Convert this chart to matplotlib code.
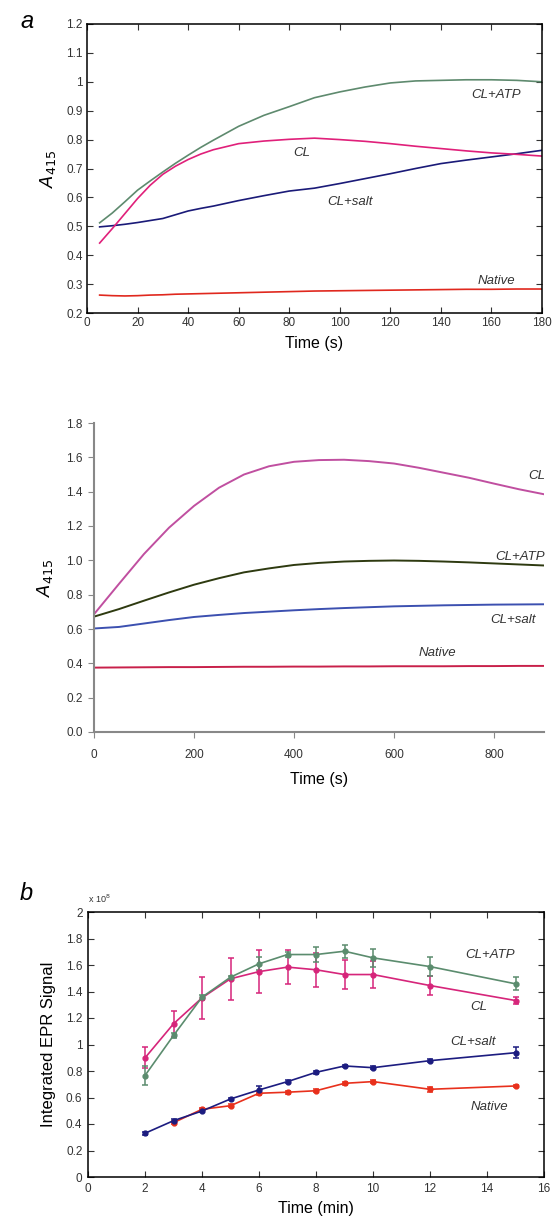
import numpy as np
import matplotlib
matplotlib.use('Agg')
import matplotlib.pyplot as plt
from matplotlib.ticker import FormatStrFormatter, FuncFormatter

plt.rcParams['font.family'] = ['Liberation Sans', 'DejaVu Sans']

# ---- panel a, top: A415 vs time (s), 0-180 s
t1 = [5, 10, 15, 20, 25, 30, 35, 40, 45, 50, 60, 70, 80, 90, 100, 110, 120, 130, 140, 150, 160, 170, 180]
atp1 = [0.512, 0.546, 0.585, 0.625, 0.657, 0.688, 0.718, 0.746, 0.773, 0.798, 0.846, 0.884, 0.914, 0.945,
        0.965, 0.982, 0.996, 1.003, 1.005, 1.007, 1.007, 1.005, 1.0]
cl1 = [0.442, 0.492, 0.544, 0.596, 0.642, 0.68, 0.708, 0.731, 0.75, 0.765, 0.786, 0.795, 0.801, 0.805,
       0.8, 0.794, 0.786, 0.777, 0.769, 0.761, 0.754, 0.749, 0.743]
salt1 = [0.498, 0.502, 0.507, 0.513, 0.52, 0.527, 0.54, 0.553, 0.562, 0.57, 0.589, 0.606, 0.622, 0.632,
         0.648, 0.665, 0.682, 0.7, 0.717, 0.729, 0.74, 0.751, 0.763]
nat1 = [0.262, 0.26, 0.259, 0.26, 0.262, 0.263, 0.265, 0.266, 0.267, 0.268, 0.27, 0.272, 0.274, 0.276,
        0.277, 0.278, 0.279, 0.28, 0.281, 0.282, 0.282, 0.283, 0.283]

# ---- panel a, middle: A415 vs time (s), 0-900 s
t2 = [0, 50, 100, 150, 200, 250, 300, 350, 400, 450, 500, 550, 600, 650, 700, 750, 800, 850, 900]
cl2 = [0.686, 0.863, 1.037, 1.19, 1.317, 1.423, 1.5, 1.548, 1.574, 1.584, 1.586, 1.578, 1.564, 1.539,
       1.51, 1.481, 1.447, 1.414, 1.385]
atp2 = [0.672, 0.716, 0.765, 0.813, 0.858, 0.896, 0.93, 0.953, 0.973, 0.985, 0.993, 0.997, 0.999, 0.997,
        0.993, 0.988, 0.982, 0.976, 0.97]
salt2 = [0.603, 0.612, 0.632, 0.652, 0.67, 0.682, 0.693, 0.701, 0.709, 0.716, 0.722, 0.727, 0.732, 0.735,
         0.738, 0.74, 0.742, 0.743, 0.744]
nat2 = [0.375, 0.376, 0.377, 0.378, 0.378, 0.379, 0.38, 0.38, 0.381, 0.381, 0.382, 0.382, 0.383, 0.383,
        0.383, 0.384, 0.384, 0.385, 0.385]

# ---- panel b: integrated EPR signal (x 1e8) vs time (min)
t3 = [2, 3, 4, 5, 6, 7, 8, 9, 10, 12, 15]
atp3 = [0.766, 1.068, 1.357, 1.508, 1.609, 1.679, 1.679, 1.704, 1.654, 1.588, 1.458]
atp3_err = [0.07, 0.02, 0.02, 0.01, 0.05, 0.02, 0.057, 0.05, 0.07, 0.07, 0.05]
cl3 = [0.899, 1.156, 1.352, 1.496, 1.55, 1.584, 1.564, 1.528, 1.528, 1.445, 1.332]
cl3_err = [0.08, 0.1, 0.16, 0.16, 0.16, 0.13, 0.13, 0.11, 0.1, 0.075, 0.025]
salt3 = [0.33, 0.425, 0.498, 0.589, 0.657, 0.72, 0.79, 0.838, 0.825, 0.878, 0.938]
salt3_err = [0.01, 0.01, 0.01, 0.01, 0.03, 0.01, 0.01, 0.01, 0.01, 0.01, 0.04]
t3n = [3, 4, 5, 6, 7, 8, 9, 10, 12, 15]
nat3 = [0.41, 0.511, 0.538, 0.632, 0.64, 0.651, 0.707, 0.72, 0.662, 0.687]
nat3_err = [0.01, 0.01, 0.01, 0.01, 0.01, 0.01, 0.01, 0.01, 0.02, 0.01]

W, H = 556, 1221
fig = plt.figure(figsize=(W / 100, H / 100), dpi=100)


def box(l, t, r, b):
    return [l / W, 1 - b / H, (r - l) / W, (b - t) / H]


g_fmt = FuncFormatter(lambda v, p: '%g' % round(v, 3))

# panel a top
ax1 = fig.add_axes(box(87, 24, 542, 313))
ax1.plot(t1, nat1, color='#e0281e', lw=1.2)
ax1.plot(t1, salt1, color='#1a1a78', lw=1.2)
ax1.plot(t1, cl1, color='#e0207a', lw=1.2)
ax1.plot(t1, atp1, color='#5e8a6e', lw=1.2)
ax1.set_xlim(0, 180)
ax1.set_ylim(0.2, 1.2)
ax1.set_xticks(np.arange(0, 181, 20))
ax1.set_yticks(np.arange(0.2, 1.21, 0.1))
ax1.yaxis.set_major_formatter(g_fmt)
ax1.tick_params(direction='in', top=True, right=True, labelsize=8.5, length=4, colors='#333333', pad=3)
for s in ax1.spines.values():
    s.set_linewidth(1.1)
ax1.set_xlabel('Time (s)', fontsize=11.5, labelpad=5)
ax1.set_ylabel('$\\mathit{A}_{415}$', fontsize=13, labelpad=6)
ax1.text(162, 0.955, 'CL+ATP', style='italic', fontsize=9.5, ha='center', va='center', color='#333333')
ax1.text(85, 0.752, 'CL', style='italic', fontsize=9.5, ha='center', va='center', color='#333333')
ax1.text(104, 0.585, 'CL+salt', style='italic', fontsize=9.5, ha='center', va='center', color='#333333')
ax1.text(162, 0.31, 'Native', style='italic', fontsize=9.5, ha='center', va='center', color='#333333')
fig.text(20 / W, 1 - 22 / H, 'a', style='italic', fontsize=17, ha='left', va='center')

# panel a middle
ax2 = fig.add_axes(box(94, 423, 544, 732))
ax2.plot(t2, nat2, color='#c8204a', lw=1.4)
ax2.plot(t2, salt2, color='#3c50b0', lw=1.4)
ax2.plot(t2, atp2, color='#2e3a10', lw=1.4)
ax2.plot(t2, cl2, color='#c04fa0', lw=1.4)
ax2.set_xlim(0, 900)
ax2.set_ylim(0, 1.8)
ax2.set_xticks(np.arange(0, 801, 200))
ax2.set_yticks(np.arange(0, 1.81, 0.2))
ax2.yaxis.set_major_formatter(FormatStrFormatter('%.1f'))
ax2.spines['top'].set_visible(False)
ax2.spines['right'].set_visible(False)
for s in ['left', 'bottom']:
    ax2.spines[s].set_color('#888888')
    ax2.spines[s].set_linewidth(1.5)
ax2.tick_params(direction='out', labelsize=8.5, length=4, color='#888888', labelcolor='#333333', pad=4)
ax2.tick_params(axis='x', pad=8)
ax2.set_xlabel('Time (s)', fontsize=11.5, labelpad=8)
ax2.set_ylabel('$\\mathit{A}_{415}$', fontsize=13, labelpad=8)
ax2.text(886, 1.49, 'CL', style='italic', fontsize=9.5, ha='center', va='center', color='#333333')
ax2.text(852, 1.018, 'CL+ATP', style='italic', fontsize=9.5, ha='center', va='center', color='#333333')
ax2.text(838, 0.65, 'CL+salt', style='italic', fontsize=9.5, ha='center', va='center', color='#333333')
ax2.text(686, 0.458, 'Native', style='italic', fontsize=9.5, ha='center', va='center', color='#333333')

# panel b
ax3 = fig.add_axes(box(88, 912, 544, 1177))
kw = dict(lw=1.2, marker='o', ms=3.5, capsize=2.5, elinewidth=1.1, capthick=1.1)
ax3.errorbar(t3n, nat3, yerr=nat3_err, color='#e8301c', **kw)
ax3.errorbar(t3, salt3, yerr=salt3_err, color='#1c1c80', **kw)
ax3.errorbar(t3, cl3, yerr=cl3_err, color='#d6257a', **kw)
ax3.errorbar(t3, atp3, yerr=atp3_err, color='#5b8c6e', **kw)
ax3.set_xlim(0, 16)
ax3.set_ylim(0, 2)
ax3.set_xticks(np.arange(0, 17, 2))
ax3.set_yticks(np.arange(0, 2.01, 0.2))
ax3.yaxis.set_major_formatter(g_fmt)
ax3.tick_params(direction='in', top=True, right=True, labelsize=8.5, length=4, colors='#333333', pad=4)
for s in ax3.spines.values():
    s.set_linewidth(1.1)
ax3.set_xlabel('Time (min)', fontsize=11.5, labelpad=5)
ax3.set_ylabel('Integrated EPR Signal', fontsize=12, labelpad=7)
ax3.text(0.0, 1.025, 'x 10$^{8}$', transform=ax3.transAxes, fontsize=6.5, ha='left', va='bottom',
         color='#333333')
ax3.text(14.1, 1.673, 'CL+ATP', style='italic', fontsize=9.5, ha='center', va='center', color='#333333')
ax3.text(13.7, 1.283, 'CL', style='italic', fontsize=9.5, ha='center', va='center', color='#333333')
ax3.text(13.5, 1.019, 'CL+salt', style='italic', fontsize=9.5, ha='center', va='center', color='#333333')
ax3.text(14.1, 0.528, 'Native', style='italic', fontsize=9.5, ha='center', va='center', color='#333333')
fig.text(20 / W, 1 - 893 / H, 'b', style='italic', fontsize=17, ha='left', va='center')

fig.savefig('out.png', dpi=100)
